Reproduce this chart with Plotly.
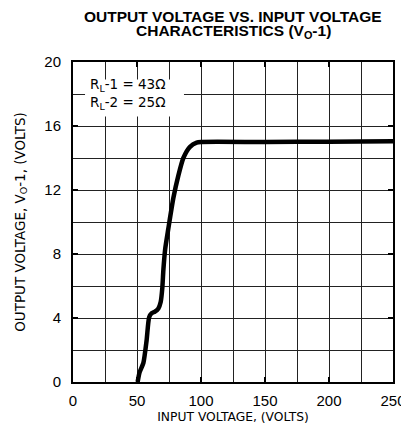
import plotly.graph_objects as go

# Data
vin = [50.5, 52, 55, 57.5, 59.5, 61.5, 64, 66.7, 68.5, 69.8, 70.6, 72, 74.5, 78.4, 82.3, 86.2, 91.4, 96.6, 100, 150, 200, 250]
vout = [0.0, 0.6, 1.2, 2.6, 4.05, 4.3, 4.4, 4.6, 5.0, 5.9, 7.0, 8.3, 9.6, 11.5, 12.9, 14.0, 14.7, 14.96, 15.0, 15.0, 15.02, 15.05]

x_ticks = [0, 50, 100, 150, 200, 250]
y_ticks = [0, 4, 8, 12, 16, 20]

FONT = "Liberation Sans, Arial, Helvetica, sans-serif"
WIDE = "DejaVu Sans, Verdana, sans-serif"

fig = go.Figure()
fig.add_trace(go.Scatter(x=vin, y=vout, mode="lines",
                         line=dict(color="black", width=4.5, shape="spline", smoothing=0.6),
                         showlegend=False, hoverinfo="skip"))

grid_col = "#222222"
fig.update_xaxes(range=[0, 250], tickvals=x_ticks, ticks="inside", ticklen=5, tickwidth=2,
                 tickcolor="black", showgrid=True, gridcolor=grid_col, gridwidth=1,
                 minor=dict(dtick=25, tick0=0, showgrid=True, gridcolor=grid_col, gridwidth=1, ticks=""),
                 showline=True, linecolor="black", linewidth=2, mirror="ticks", zeroline=False,
                 ticklabelstandoff=4, automargin=False,
                 tickfont=dict(size=15, color="black", family=FONT),
                 title=dict(text="INPUT VOLTAGE, (VOLTS)", font=dict(size=12.3, color="black", family=WIDE), standoff=4))
fig.update_yaxes(range=[0, 20], tickvals=y_ticks, ticks="inside", ticklen=5, tickwidth=2,
                 tickcolor="black", showgrid=True, gridcolor=grid_col, gridwidth=1,
                 minor=dict(dtick=2, tick0=0, showgrid=True, gridcolor=grid_col, gridwidth=1, ticks=""),
                 showline=True, linecolor="black", linewidth=2, mirror="ticks", zeroline=False,
                 ticklabelstandoff=7, automargin=False,
                 tickfont=dict(size=15, color="black", family=FONT),
                 title=dict(text="OUTPUT VOLTAGE, V<sub>O</sub>-1, (VOLTS)", font=dict(size=13.5, color="black", family=WIDE), standoff=16))

fig.add_shape(type="rect", xref="x", yref="y", x0=9.4, x1=86.7, y0=16.6, y1=18.9,
              fillcolor="white", line=dict(width=0), layer="above")
fig.add_annotation(xref="x", yref="y", x=11.5, y=18.56, xanchor="left", yanchor="middle", align="left",
                   showarrow=False, text="R<sub>L</sub>-1 = 43Ω",
                   font=dict(size=13.5, color="black", family=WIDE))
fig.add_annotation(xref="x", yref="y", x=11.5, y=17.44, xanchor="left", yanchor="middle", align="left",
                   showarrow=False, text="R<sub>L</sub>-2 = 25Ω",
                   font=dict(size=13.5, color="black", family=WIDE))

# Title as two tightly spaced lines
fig.add_annotation(xref="paper", yref="paper", x=0.5, y=1.141, xanchor="center", yanchor="middle",
                   showarrow=False, text="<b>OUTPUT VOLTAGE VS. INPUT VOLTAGE</b>",
                   font=dict(size=15.5, color="black", family=FONT))
fig.add_annotation(xref="paper", yref="paper", x=0.5, y=1.094, xanchor="center", yanchor="middle",
                   showarrow=False, text="<b>CHARACTERISTICS (V<sub>O</sub>-1)</b>",
                   font=dict(size=15.5, color="black", family=FONT))

# page body adds an 8px offset; size the figure so the plot area lands where the reference has it
fig.update_layout(
    width=401, height=416,
    margin=dict(l=65, r=16, t=54, b=42),
    paper_bgcolor="white", plot_bgcolor="white",
)

fig.write_html("out.html")
